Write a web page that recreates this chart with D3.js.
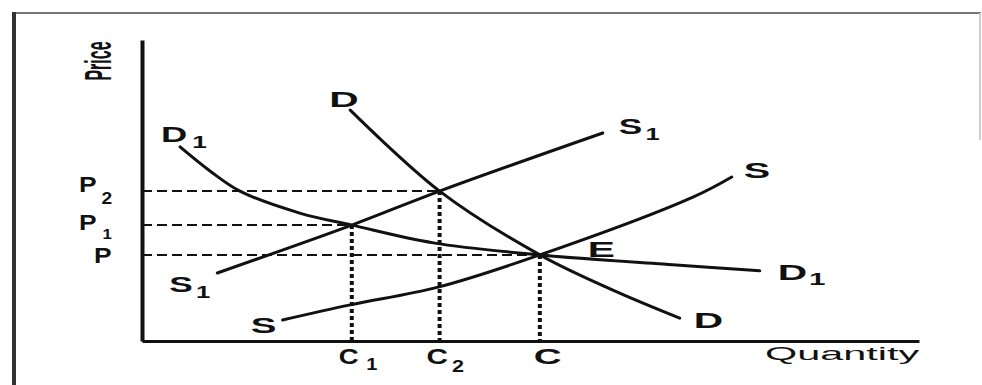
<!DOCTYPE html>
<html><head><meta charset="utf-8">
<script src="https://cdn.jsdelivr.net/npm/d3@7"></script>
<style>body{margin:0;background:#fff}svg{display:block}</style>
</head><body><svg id="c" width="982" height="385"></svg>
<script>
// ---- data (quantity 0..100, price 0..100) ----
const quantityTicks = [27, 38.3, 51.2];          // C1, C2, C
const quantityTickNames = [["C","1"],["C","2"],["C",""]];
const priceTicks = [49.8, 38.5, 28.6];           // P2, P1, P
const priceTickNames = [["P","2"],["P","1"],["P",""]];
const curveD  = [[26.8,76.7],[38.3,49.8],[51.2,28.6],[60.6,16.9],[69.2,7.6]];
const curveD1 = [[4.9,64.5],[8.75,56.5],[12.6,49.8],[20.3,42.5],[27,38.5],[37.5,32.6],[51.2,28.6],[69.2,25.2],[79.5,23.3]];
const curveS1 = [[9.7,22.6],[27,38.5],[38.3,49.8],[59.3,69.1]];
const curveS  = [[18.1,7.0],[26.8,12.0],[38.1,17.9],[51.2,28.6],[70.9,47.8],[75.9,54.5]];
const equilibriumName = "E";
const axisTitles = ["Price","Quantity"];

const svg = d3.select("#c");
const x = d3.scaleLinear().domain([0,100]).range([142,919]);
const y = d3.scaleLinear().domain([0,100]).range([341,40]);
const ink = "#111";

// frame
svg.append("line").attr("x1",13).attr("x2",981).attr("y1",13).attr("y2",13).attr("stroke","#777").attr("stroke-width",2);
svg.append("line").attr("x1",14).attr("x2",14).attr("y1",12).attr("y2",385).attr("stroke","#333").attr("stroke-width",4);
svg.append("line").attr("x1",980).attr("x2",980).attr("y1",13).attr("y2",140).attr("stroke","#ccc").attr("stroke-width",2);

// guides
const P = priceTicks, Q = quantityTicks;
const hGuides = [[P[0],Q[1]],[P[1],Q[0]],[P[2],Q[2]]];
hGuides.forEach(([p,q])=>{
  svg.append("line").attr("x1",x(0)).attr("x2",x(q)).attr("y1",y(p)).attr("y2",y(p))
    .attr("stroke",ink).attr("stroke-width",2).attr("stroke-dasharray","10,5");
  svg.append("line").attr("x1",x(q)).attr("x2",x(q)).attr("y1",y(p)).attr("y2",y(0))
    .attr("stroke",ink).attr("stroke-width",4).attr("stroke-dasharray","4,3");
});

// axes
const ax = svg.append("g").attr("transform",`translate(0,${y(0)})`)
  .call(d3.axisBottom(x).tickValues([]).tickSizeOuter(0));
ax.select(".domain").attr("stroke",ink).attr("stroke-width",3);
const ay = svg.append("g").attr("transform",`translate(${x(0)},0)`)
  .call(d3.axisLeft(y).tickValues([]).tickSizeOuter(0));
ay.select(".domain").attr("stroke",ink).attr("stroke-width",4);

// curves
const line = d3.line().x(d=>x(d[0])).y(d=>y(d[1])).curve(d3.curveCatmullRom.alpha(0.5));
[curveD,curveD1,curveS1,curveS].forEach(c=>{
  svg.append("path").attr("d",line(c)).attr("fill","none").attr("stroke",ink).attr("stroke-width",3).attr("stroke-linecap","round");
});

// labels
function label(main, sub, lx, by, sx, subDy, subDx, subSize){
  const t = svg.append("text").attr("transform",`translate(${lx},${by}) scale(${sx},1)`)
    .attr("font-family","Liberation Sans, Arial, sans-serif").attr("font-weight","bold")
    .attr("font-size",22).attr("fill",ink);
  t.append("tspan").text(main);
  if(sub) t.append("tspan").attr("font-size",subSize||16).attr("dy",subDy).attr("dx",subDx).text(sub);
}
const first = c=>[x(c[0][0]),y(c[0][1])], last = c=>[x(c[c.length-1][0]),y(c[c.length-1][1])];
let a;
a=first(curveD);  label("D","",a[0]-21,a[1]-3,1.85);
a=first(curveD1); label("D","1",a[0]-19,a[1]-5,1.65,6,3);
a=last(curveS1);  label("S","1",a[0]+16,a[1]+1,1.6,6,2);
a=last(curveS);   label("S","",a[0]+12,a[1]+1,1.8);
label(equilibriumName,"",x(Q[2])+48,y(P[2])+2,1.85);
a=last(curveD1);  label("D","1",a[0]+18,a[1]+9,1.85,5,1);
a=last(curveD);   label("D","",a[0]+14,a[1]+10,1.85);
a=first(curveS1); label("S","1",a[0]-48,a[1]+19,1.6,6,2);
a=first(curveS);  label("S","",a[0]-32,a[1]+13,1.75);

const pOff=[1,5,8], pLeft=[79,79,94], pDy=[12,9,0], pDx=[4,5,0], pSub=[16,14,16];
priceTickNames.forEach((n,i)=>label(n[0],n[1],pLeft[i],y(P[i])+pOff[i],1.2,pDy[i],pDx[i],pSub[i]));
const cOff=[-13,-13,-6], cSx=[1.25,1.35,1.75], cDy=[6,8,0], cDx=[6,3,0];
quantityTickNames.forEach((n,i)=>label(n[0],n[1],x(Q[i])+cOff[i],364,cSx[i],cDy[i],cDx[i]));

svg.append("text").attr("transform",`translate(${x(100)-154},360) scale(2.3,1)`)
  .attr("font-family","Liberation Sans, Arial, sans-serif").attr("font-size",18).attr("fill",ink).text(axisTitles[1]);
svg.append("text").attr("transform",`translate(97,61) scale(2.3,1) rotate(-90)`)
  .attr("text-anchor","middle").attr("y",6).attr("font-weight","bold")
  .attr("font-family","Liberation Sans, Arial, sans-serif").attr("font-size",16).attr("fill",ink).text(axisTitles[0]);
</script></body></html>
